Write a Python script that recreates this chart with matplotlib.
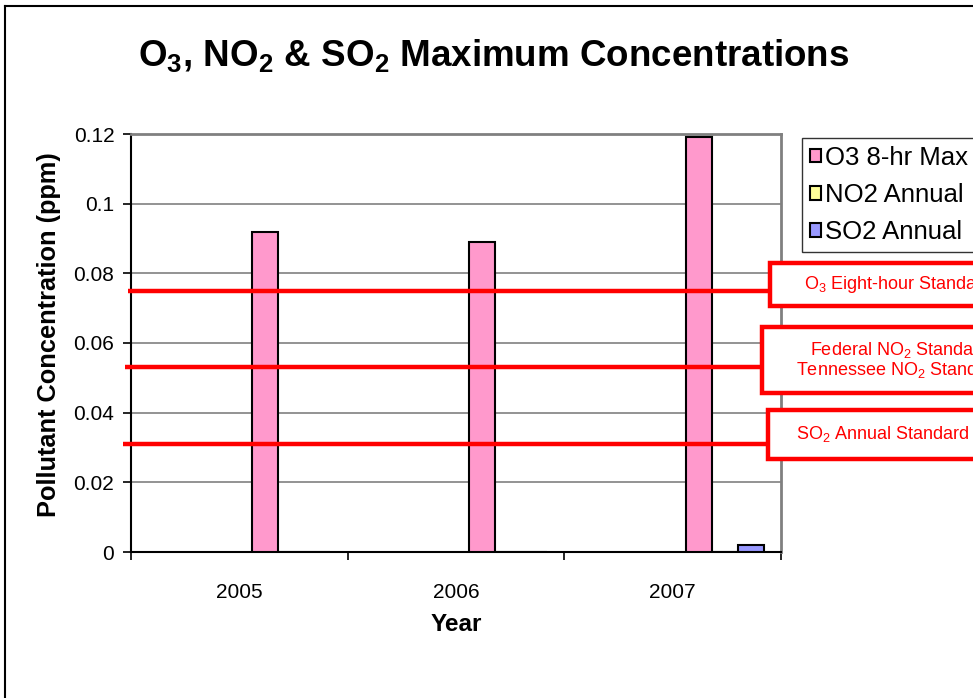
#!/usr/bin/env python3

import matplotlib
matplotlib.use('Agg')
import matplotlib.pyplot as plot
import matplotlib.transforms as transforms
from matplotlib.patches import Patch, Rectangle
from matplotlib.lines import Line2D

years = ['2005', '2006', '2007']
o3_max = [0.092, 0.089, 0.119]
no2_annual = [0.0, 0.0, 0.0]
so2_annual = [0.0, 0.0, 0.002]

series_labels = ['O3 8-hr Max', 'NO2 Annual', 'SO2 Annual']
series_colors = ['#FF99CC', '#FFFF99', '#9999FF']

standard_values = [0.075, 0.053, 0.031]
standard_texts = ['O$_3$ Eight-hour Standard',
                  'Federal NO$_2$ Standard\nTennessee NO$_2$ Standard',
                  'SO$_2$ Annual Standard']

plot.rcParams['font.family'] = ['Liberation Sans', 'DejaVu Sans']
plot.rcParams['mathtext.fontset'] = 'custom'
plot.rcParams['mathtext.rm'] = 'Liberation Sans'
plot.rcParams['mathtext.bf'] = 'Liberation Sans:bold'

W, H = 973, 698
figure = plot.figure(figsize=(W / 100, H / 100), dpi=100)
figure.patch.set_facecolor('white')


def fx(px):
    return px / W


def fy(py):
    return 1 - py / H


axis = figure.add_axes([fx(131), fy(552), fx(781) - fx(131), fy(134) - fy(552)])

bar_width = 0.12
index = range(len(years))
all_series = [o3_max, no2_annual, so2_annual]
for n, (values, color) in enumerate(zip(all_series, series_colors)):
    axis.bar([i + (n + 1) * bar_width for i in index], values, bar_width,
             color=color, edgecolor='black', linewidth=1.5, zorder=3)

axis.set_xlim(-0.5, 2.5)
axis.set_ylim(0, 0.12)
axis.set_yticks([0, 0.02, 0.04, 0.06, 0.08, 0.1, 0.12])
axis.set_yticklabels(['0', '0.02', '0.04', '0.06', '0.08', '0.1', '0.12'])
axis.yaxis.grid(True, color='#808080', linewidth=1.2, zorder=0)
axis.set_axisbelow(True)

axis.set_xticks([-0.5, 0.5, 1.5, 2.5])
axis.set_xticklabels([])
axis.set_xticks(list(index), minor=True)
axis.set_xticklabels(years, minor=True)
axis.tick_params(axis='x', which='major', direction='out', length=6, width=1.2)
axis.tick_params(axis='x', which='minor', length=0, pad=22, labelsize=15)
axis.tick_params(axis='y', direction='out', length=6, width=1.2, pad=6, labelsize=15)

for side in ['top', 'right']:
    axis.spines[side].set_color('#808080')
    axis.spines[side].set_linewidth(2)
for side in ['left', 'bottom']:
    axis.spines[side].set_color('black')
    axis.spines[side].set_linewidth(1.5)

axis.set_xlabel('Year', fontsize=17.5, fontweight='bold', labelpad=8)
axis.set_ylabel('Pollutant Concentration (ppm)', fontsize=18.3, fontweight='bold')
axis.yaxis.set_label_coords(-0.108, 0.52)

figure.text(fx(494), fy(67),
            r'O$_\mathbf{3}$, NO$_\mathbf{2}$ & SO$_\mathbf{2}$ Maximum Concentrations',
            fontsize=26.5, fontweight='bold', ha='center', va='baseline')

# standard lines and their labelled boxes
blend = transforms.blended_transform_factory(figure.transFigure, axis.transData)
line_starts = [128, 125, 123]
box_lefts = [770, 762, 768]
box_tops = [263, 327, 410]
box_bottoms = [306, 393, 459]
text_centers = [898, 900, 883]
for value, text, x0, left, top, bottom, center in zip(
        standard_values, standard_texts, line_starts, box_lefts,
        box_tops, box_bottoms, text_centers):
    axis.plot([fx(x0), fx(left)], [value, value], color='#FF0000',
              linewidth=3.2, transform=blend, clip_on=False, zorder=5,
              solid_capstyle='butt')
    figure.patches.append(Rectangle((fx(left), fy(bottom)), fx(1100) - fx(left),
                                    fy(top) - fy(bottom), facecolor='white',
                                    edgecolor='#FF0000', linewidth=3.2,
                                    transform=figure.transFigure, zorder=6))
    figure.text(fx(center), fy((top + bottom) / 2), text, color='#FF0000',
                fontsize=13, ha='center', va='center', multialignment='center',
                linespacing=1.0, zorder=7)

handles = [Patch(facecolor=c, edgecolor='black', linewidth=1.5) for c in series_colors]
legend = figure.legend(handles, series_labels, loc='upper left',
                       bbox_to_anchor=(fx(802), fy(138), fx(1100) - fx(802), 0),
                       mode='expand', fontsize=18.5, frameon=True, fancybox=False,
                       handlelength=0.45, handleheight=0.45, handletextpad=0.15,
                       labelspacing=0.52, borderpad=0.3, borderaxespad=0)
legend.get_frame().set_edgecolor('black')
legend.get_frame().set_linewidth(1.0)

# outer chart border (only top and left are inside the picture)
figure.add_artist(Line2D([fx(5), fx(5)], [0, fy(6)], color='black', linewidth=1.5))
figure.add_artist(Line2D([fx(5), 1], [fy(6), fy(6)], color='black', linewidth=1.5))

figure.savefig('out.png', dpi=100)
